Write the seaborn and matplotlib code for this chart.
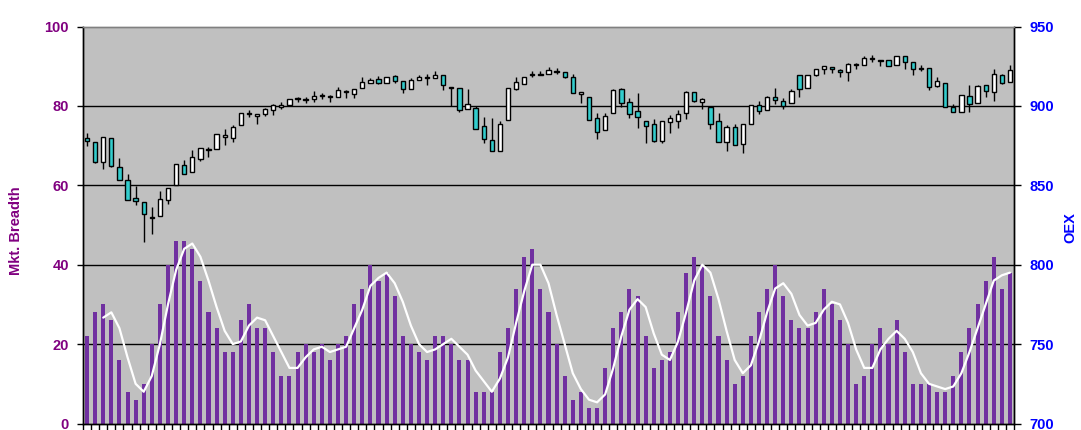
import numpy as np
import pandas as pd
import matplotlib
matplotlib.use('Agg')
import matplotlib.pyplot as plt
import seaborn as sns

# Market breadth (left axis), one bar per day
breadth = [22, 28, 30, 26, 16, 8, 6, 10, 20, 30, 40, 46, 46, 44, 36, 28, 24, 18, 18, 26,
           30, 24, 24, 18, 12, 12, 18, 20, 18, 20, 16, 20, 22, 30, 34, 40, 36, 38, 32,
           22, 20, 18, 16, 22, 22, 20, 16, 16, 8, 8, 8, 18, 24, 34, 42, 44, 34, 28, 20,
           12, 6, 8, 4, 4, 14, 24, 28, 34, 32, 22, 14, 16, 18, 28, 38, 42, 40, 32,
           22, 16, 10, 12, 22, 28, 34, 40, 32, 26, 24, 24, 28, 34, 30, 26, 20, 10, 12, 20,
           24, 20, 26, 18, 10, 10, 10, 8, 8, 12, 18, 24, 30, 36, 42, 34, 38]

# OEX daily candles (right axis)
oex_open = [879.6, 876.9, 865.0, 879.6, 861.5, 853.1, 841.9, 839.4, 829.4, 830.6,
            840.6, 850.6, 862.5, 858.5, 866.9, 872.3, 873.1, 880.8, 880.0, 888.1,
            895.0, 894.0, 895.0, 897.5, 899.4, 901.0, 904.6, 903.8, 904.8, 906.5,
            905.8, 906.0, 909.0, 907.5, 911.7, 914.8, 916.7, 914.8, 918.7, 915.6,
            911.0, 916.7, 917.7, 917.9, 919.4, 911.3, 911.2, 898.1, 898.7, 886.9,
            878.1, 871.9, 891.2, 911.0, 913.7, 919.8, 919.8, 920.0, 921.3, 921.2,
            918.1, 907.9, 905.4, 891.9, 885.0, 895.6, 910.6, 902.5, 896.9, 890.6,
            888.1, 878.1, 890.0, 890.6, 895.6, 908.7, 902.5, 899.4, 890.0, 877.5,
            886.2, 876.2, 888.7, 900.6, 897.5, 905.6, 903.1, 901.9, 919.4, 911.2,
            919.4, 923.1, 924.4, 922.5, 921.2, 926.0, 926.2, 929.8, 928.5, 928.7,
            925.6, 931.2, 927.5, 923.5, 923.7, 912.5, 914.4, 899.4, 896.2, 906.2,
            901.9, 913.1, 908.7, 919.4, 915.0]
oex_high = [882.9, 876.9, 880.6, 879.6, 867.1, 856.9, 849.8, 839.4, 836.2, 846.2,
            848.1, 863.1, 866.2, 872.5, 873.7, 874.2, 881.9, 885.2, 888.1, 895.6,
            897.5, 894.4, 898.7, 901.5, 902.7, 904.2, 905.6, 905.6, 909.2, 908.1,
            906.7, 911.9, 910.0, 910.6, 918.1, 917.7, 918.7, 918.1, 919.6, 915.6,
            917.5, 919.4, 920.2, 921.9, 919.4, 911.7, 911.2, 910.6, 900.0, 893.1,
            892.5, 890.6, 911.2, 917.9, 918.3, 921.9, 921.7, 924.2, 924.0, 921.2,
            920.2, 908.3, 905.4, 895.6, 895.6, 910.6, 911.2, 905.0, 908.1, 890.6,
            891.9, 890.0, 894.4, 897.5, 909.4, 908.7, 905.0, 900.0, 895.6, 888.1,
            888.7, 888.1, 900.6, 903.1, 906.2, 911.2, 905.0, 910.6, 919.4, 919.4,
            923.1, 925.0, 924.4, 923.1, 926.9, 926.9, 931.2, 931.9, 928.9, 928.7,
            931.2, 931.2, 927.5, 925.6, 923.7, 918.1, 914.4, 901.2, 906.9, 913.1,
            913.1, 913.1, 923.1, 920.0, 925.6]
oex_low = [875.0, 864.2, 860.4, 861.7, 853.7, 840.6, 837.3, 814.2, 819.4, 830.6,
           838.1, 850.6, 857.5, 858.5, 865.6, 867.9, 873.1, 875.4, 877.3, 888.1,
           892.9, 888.5, 893.7, 894.0, 898.1, 901.0, 902.5, 901.9, 902.3, 904.2,
           902.7, 906.0, 904.8, 904.8, 911.0, 914.6, 914.0, 914.8, 914.6, 907.9,
           911.0, 916.2, 912.9, 917.5, 909.8, 900.0, 896.0, 898.1, 885.6, 876.5,
           871.9, 871.9, 891.2, 909.8, 913.7, 918.5, 919.4, 920.0, 920.2, 917.3,
           908.1, 902.1, 891.2, 879.2, 885.0, 895.6, 899.2, 892.3, 886.2, 876.7,
           877.5, 876.7, 883.1, 886.2, 891.9, 902.5, 898.1, 885.6, 877.5, 871.9,
           875.6, 870.6, 888.7, 895.0, 897.5, 901.2, 898.1, 901.9, 905.6, 911.2,
           918.7, 920.0, 920.6, 918.1, 915.6, 923.1, 925.6, 927.5, 925.0, 925.0,
           925.6, 923.1, 919.4, 921.9, 910.0, 911.9, 899.4, 896.2, 896.2, 896.2,
           901.9, 905.6, 903.1, 913.7, 915.0]
oex_close = [878.1, 864.8, 880.2, 862.3, 853.7, 840.6, 840.0, 831.9, 829.8, 841.2,
             848.1, 863.1, 857.5, 867.5, 873.3, 872.7, 881.9, 881.2, 886.2, 895.6,
             895.4, 894.4, 898.1, 900.6, 900.2, 904.2, 905.0, 904.2, 906.2, 906.9,
             906.2, 910.0, 909.4, 910.6, 914.6, 916.2, 914.6, 918.1, 916.0, 910.6,
             916.2, 918.1, 918.1, 919.4, 913.1, 911.7, 897.3, 901.2, 885.6, 879.4,
             871.9, 888.7, 911.2, 915.0, 918.3, 920.2, 920.2, 922.5, 921.7, 918.1,
             908.1, 908.3, 891.2, 883.7, 893.7, 910.0, 901.9, 895.0, 893.1, 887.5,
             878.1, 890.0, 891.9, 894.4, 908.7, 903.1, 904.4, 888.7, 877.5, 886.2,
             875.6, 888.1, 900.6, 896.9, 905.6, 903.7, 900.0, 909.4, 910.6, 919.4,
             923.1, 925.0, 923.1, 921.2, 926.2, 926.4, 930.0, 930.2, 928.9, 925.0,
             931.2, 927.5, 923.7, 923.9, 911.9, 915.6, 899.4, 896.2, 906.9, 901.2,
             912.5, 909.4, 920.0, 914.4, 922.5]

grid_levels = [20, 40, 60, 80]

PURPLE = '#800080'
BLUE = '#0000FF'

df = pd.DataFrame({'day': np.arange(len(breadth)), 'breadth': breadth,
                   'open': oex_open, 'high': oex_high, 'low': oex_low, 'close': oex_close})
# 3-day moving average of breadth
df['ma'] = df['breadth'].rolling(3).mean()
df['body_lo'] = df[['open', 'close']].min(axis=1)
df['body_h'] = (df['close'] - df['open']).abs()
df['fill'] = np.where(df['close'] >= df['open'], 'white', '#33CCCC')

sns.set_theme(style='ticks')
plt.rcParams['font.family'] = ['Liberation Sans', 'DejaVu Sans']

fig = plt.figure(figsize=(10.81, 4.30), dpi=100)
ax = fig.add_axes([83 / 1081, 6.5 / 430, 931 / 1081, 397 / 430])
ax.set_facecolor('#C0C0C0')
ax.grid(False)
for lvl in grid_levels:
    ax.axhline(lvl, color='black', lw=1, zorder=1)

sns.barplot(data=df, x='day', y='breadth', color='#7030A0', saturation=1,
            width=0.5, errorbar=None, linewidth=0, edgecolor='none', ax=ax, zorder=2)
ma = df.dropna(subset=['ma'])
ax.plot(ma['day'], ma['ma'], color='white', lw=1.6, zorder=3)

ax.set_xlim(-0.5, len(breadth) - 0.5)
ax.set_ylim(0, 100)
ax.set_yticks(range(0, 101, 20))
ax.set_xticks(np.arange(-0.5, len(breadth), 1))
ax.set_xticklabels([])
ax.set_xlabel('')
ax.tick_params(axis='x', length=4, width=1, color='black', direction='out')
ax.tick_params(axis='y', length=4, width=1, color='black', direction='out', pad=6,
               labelsize=10.5, labelcolor=PURPLE)
for lab in ax.get_yticklabels():
    lab.set_fontweight('bold')
ax.set_ylabel('Mkt. Breadth', color=PURPLE, fontweight='bold', fontsize=10.5)
ax.yaxis.set_label_coords(-0.064, 0.485)

# candlesticks on the OEX axis
ax2 = ax.twinx()
ax2.grid(False)
ax2.vlines(df['day'], df['low'], df['high'], color='black', lw=1, zorder=1)
ax2.bar(df['day'], df['body_h'] + 0.35, bottom=df['body_lo'] - 0.15, width=0.53,
        color=df['fill'], edgecolor='black', linewidth=1, zorder=2)
ax2.set_ylim(700, 950)
ax2.set_yticks(range(700, 951, 50))
ax2.tick_params(axis='y', length=5, width=1, color='black', direction='out', pad=6,
                labelsize=10.5, labelcolor=BLUE)
for lab in ax2.get_yticklabels():
    lab.set_fontweight('bold')
ax2.set_ylabel('OEX', color=BLUE, fontweight='bold', fontsize=10.5)
ax2.yaxis.set_label_coords(1.053, 0.4925)

for a in (ax, ax2):
    for side, sp in a.spines.items():
        sp.set_linewidth(1)
        sp.set_color('#808080' if side == 'top' else 'black')

fig.savefig('out.png', dpi=100)
